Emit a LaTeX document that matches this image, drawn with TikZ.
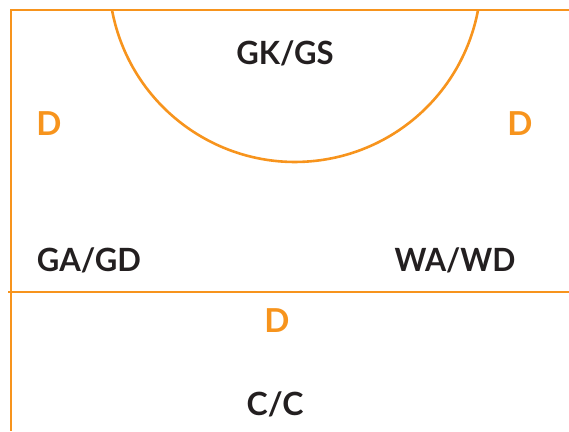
\documentclass[tikz,border=0pt]{standalone}
\usepackage{fontspec}
\setmainfont{Lato}
\definecolor{court}{HTML}{F7941D}
\definecolor{ink}{HTML}{231F20}
\begin{document}
\begin{tikzpicture}[x=1pt,y=1pt,
  courtline/.style={draw=court,line width=2.6pt},
  player/.style={text=ink,font=\fontsize{32}{32}\selectfont\bfseries,inner sep=0pt,anchor=base},
  dlab/.style={text=court,font=\fontsize{33}{33}\selectfont\bfseries,inner sep=0pt,anchor=base}]
\useasboundingbox (0,0) rectangle (569,431);
\coordinate (tl) at (11,421);
\coordinate (tr) at (569,421);
\coordinate (bl) at (11,0);
\coordinate (ml) at (8,139);
\coordinate (mr) at (569,139);
\coordinate (as) at (112,421);
\draw[courtline] (tr) -- (tl) -- (bl);
\draw[courtline] (ml) -- (mr);
\draw[courtline] (as) arc[start angle=190.6,end angle=349.4,radius=186.2];
\node[player,xscale=0.97] (gk) at (285,366) {GK/GS};
\node[dlab] (d1) at (49,295) {D};
\node[dlab] (d2) at (520,295) {D};
\node[player,xscale=0.97] (ga) at (89,160) {GA/GD};
\node[player,xscale=0.95] (wa) at (455,160) {WA/WD};
\node[dlab] (d3) at (277,99) {D};
\node[player] (cc) at (275,16) {C/C};
\end{tikzpicture}
\end{document}
